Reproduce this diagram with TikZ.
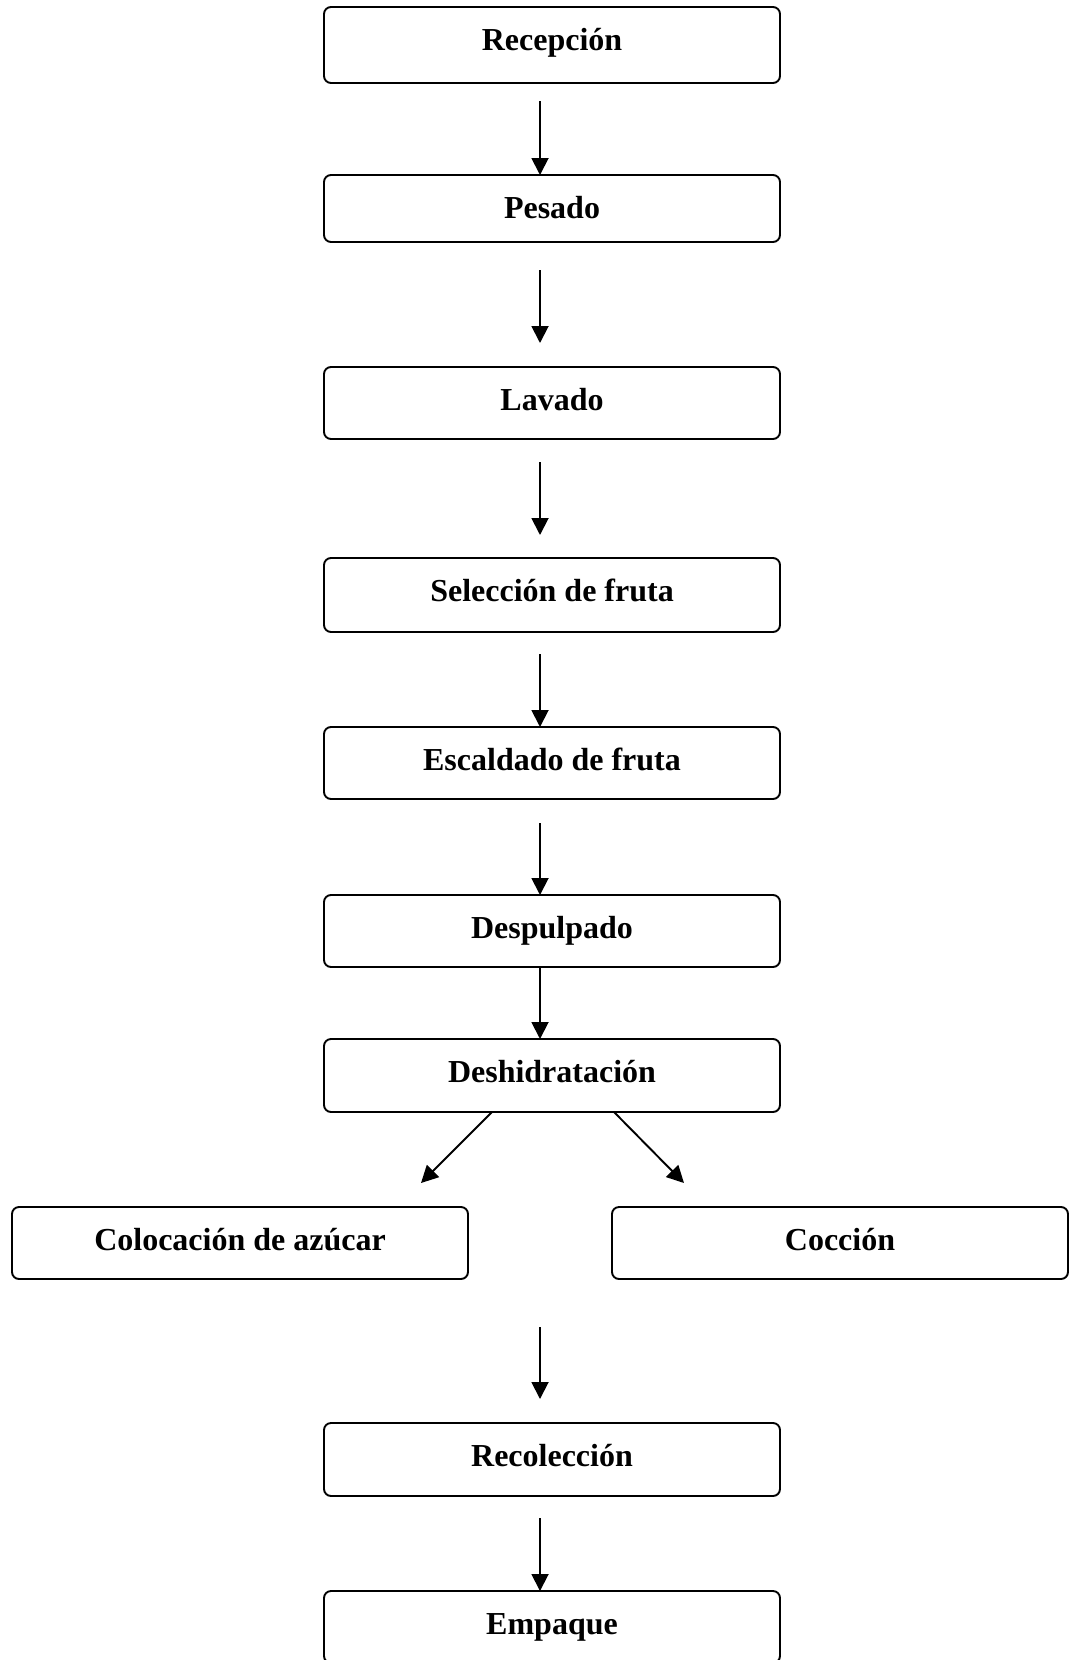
\documentclass[tikz,border=0pt]{standalone}
\usepackage{fontspec}
\setmainfont{Liberation Serif}
\usetikzlibrary{arrows.meta}

\tikzset{
  stage/.style={draw, line width=1.9pt, rounded corners=7pt, inner sep=0pt,
    outer sep=0pt, minimum width=456pt, anchor=north, text height=43pt,
    text depth=#1, font=\bfseries\fontsize{32}{38}\selectfont},
  stage/.default=29pt,
  flow/.style={line width=1.9pt, -{Triangle[length=17pt,width=17pt]}}
}

\begin{document}
\begin{tikzpicture}[x=1pt, y=-1pt]
  \useasboundingbox (0,0) rectangle (1073,1660);

  % main column of process stages
  \node[stage=33pt] (rcp) at (552,7)    {Recepción};
  \node[stage=24pt] (pes) at (552,175)  {Pesado};
  \node[stage=29pt] (lav) at (552,367)  {Lavado};
  \node[stage=31pt] (sel) at (552,558)  {Selección de fruta};
  \node[stage=29pt] (esc) at (552,727)  {Escaldado de fruta};
  \node[stage=29pt] (dsp) at (552,895)  {Despulpado};
  \node[stage=30pt] (dsh) at (552,1039) {Deshidratación};

  % the two parallel branches
  \node[stage=29pt] (azu) at (240,1207) {Colocación de azúcar};
  \node[stage=29pt] (coc) at (840,1207) {Cocción};

  % final stages
  \node[stage=30pt] (rcl) at (552,1423) {Recolección};
  \node[stage=29pt] (emp) at (552,1591) {Empaque};

  % connectors
  \draw[flow] ([xshift=-12pt,yshift=-18pt]rcp.south) -- ([xshift=-12pt]pes.north);
  \draw[flow] ([xshift=-12pt,yshift=-28pt]pes.south) -- ([xshift=-12pt,yshift=24pt]lav.north);
  \draw[flow] ([xshift=-12pt,yshift=-23pt]lav.south) -- ([xshift=-12pt,yshift=23pt]sel.north);
  \draw[flow] ([xshift=-12pt,yshift=-22pt]sel.south) -- ([xshift=-12pt]esc.north);
  \draw[flow] ([xshift=-12pt,yshift=-24pt]esc.south) -- ([xshift=-12pt]dsp.north);
  \draw[flow] ([xshift=-12pt]dsp.south) -- ([xshift=-12pt]dsh.north);

  \draw[flow] ([xshift=168pt]dsh.south west) -- ([xshift=409pt,yshift=24pt]azu.north west);
  \draw[flow] ([xshift=290pt]dsh.south west) -- ([xshift=72pt,yshift=24pt]coc.north west);

  \coordinate (join) at ([xshift=-12pt,yshift=96pt]rcl.north);
  \draw[flow] (join) -- ([xshift=-12pt,yshift=24pt]rcl.north);
  \draw[flow] ([xshift=-12pt,yshift=-22pt]rcl.south) -- ([xshift=-12pt]emp.north);
\end{tikzpicture}
\end{document}
